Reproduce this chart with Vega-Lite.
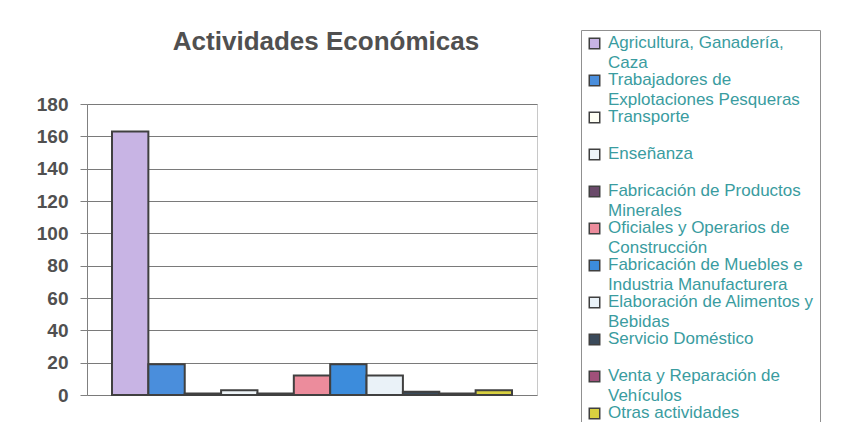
{
  "$schema": "https://vega.github.io/schema/vega-lite/v6.json",
  "autosize": "none",
  "width": 450,
  "height": 291,
  "padding": {"left": 87, "top": 104, "right": 311, "bottom": 27},
  "background": "white",
  "title": {
    "text": "Actividades Económicas",
    "font": "Liberation Sans",
    "fontSize": 26,
    "fontWeight": "bold",
    "color": "#505050",
    "anchor": "middle",
    "frame": "group",
    "baseline": "alphabetic",
    "offset": 0,
    "dy": 46,
    "dx": 14
  },
  "data": {
    "values": [
      {"actividad": "Agricultura, Ganadería,|Caza", "trabajadores": 163},
      {"actividad": "Trabajadores de|Explotaciones Pesqueras", "trabajadores": 19},
      {"actividad": "Transporte", "trabajadores": 1},
      {"actividad": "Enseñanza", "trabajadores": 3},
      {"actividad": "Fabricación de Productos|Minerales", "trabajadores": 1},
      {"actividad": "Oficiales y Operarios de|Construcción", "trabajadores": 12},
      {"actividad": "Fabricación de Muebles e|Industria Manufacturera", "trabajadores": 19},
      {"actividad": "Elaboración de Alimentos y|Bebidas", "trabajadores": 12},
      {"actividad": "Servicio Doméstico", "trabajadores": 2},
      {"actividad": "Venta y Reparación de|Vehículos", "trabajadores": 1},
      {"actividad": "Otras actividades", "trabajadores": 3}
    ]
  },
  "mark": {"type": "bar", "stroke": "#404040", "strokeWidth": 2},
  "encoding": {
    "x": {
      "field": "actividad",
      "type": "nominal",
      "sort": null,
      "axis": null,
      "scale": {"paddingInner": 0, "paddingOuter": 0.6875}
    },
    "y": {
      "field": "trabajadores",
      "type": "quantitative",
      "scale": {"domain": [0, 180]},
      "axis": {
        "values": [0, 20, 40, 60, 80, 100, 120, 140, 160, 180],
        "title": null,
        "labelFont": "Liberation Sans",
        "labelFontSize": 19,
        "labelFontWeight": "bold",
        "labelColor": "#505050",
        "labelPadding": 12,
        "tickSize": 7,
        "tickColor": "#808080",
        "domainColor": "#808080",
        "gridColor": "#7a7a7a",
        "gridWidth": 1
      }
    },
    "color": {
      "field": "actividad",
      "type": "nominal",
      "scale": {
        "domain": [
          "Agricultura, Ganadería,|Caza",
          "Trabajadores de|Explotaciones Pesqueras",
          "Transporte",
          "Enseñanza",
          "Fabricación de Productos|Minerales",
          "Oficiales y Operarios de|Construcción",
          "Fabricación de Muebles e|Industria Manufacturera",
          "Elaboración de Alimentos y|Bebidas",
          "Servicio Doméstico",
          "Venta y Reparación de|Vehículos",
          "Otras actividades"
        ],
        "range": ["#C8B4E4", "#4A8EDC", "#FFFFF4", "#EEF4F8", "#6A4A6A", "#EC8C9C", "#3C8CDC", "#EAF2F8", "#3A4A5A", "#A0507A", "#D8D040"]
      },
      "legend": {
        "orient": "none",
        "legendX": 494,
        "legendY": -74,
        "title": null,
        "symbolType": "square",
        "symbolSize": 110,
        "symbolStrokeColor": "#404040",
        "symbolStrokeWidth": 1.5,
        "labelFont": "Liberation Sans",
        "labelFontSize": 17,
        "labelColor": "#3A9CA0",
        "labelOffset": 5,
        "labelLimit": 400,
        "labelBaseline": "top",
        "labelExpr": "split(datum.label, '|')",
        "gridAlign": "all",
        "rowPadding": 0,
        "padding": 5,
        "strokeColor": "#909090",
        "encode": {
          "labels": {"update": {"lineHeight": {"value": 19.5}, "dy": {"value": -8.5}}}
        }
      }
    }
  },
  "config": {
    "view": {"stroke": "#c8c8c8", "strokeWidth": 1}
  }
}
